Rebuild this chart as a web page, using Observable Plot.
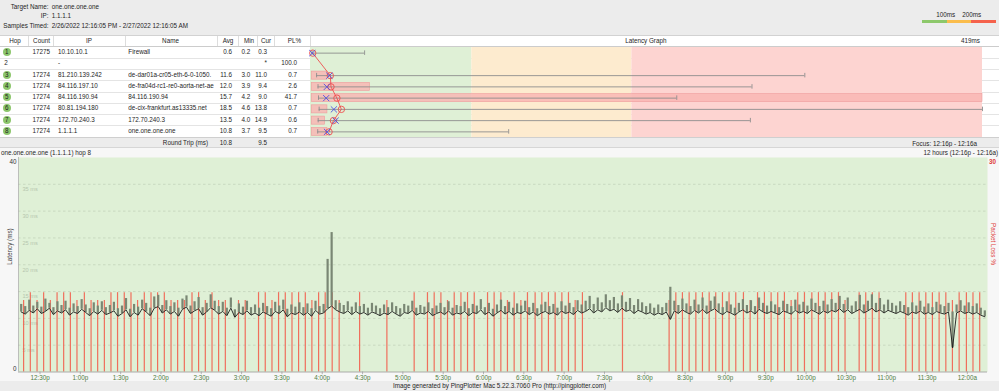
<!DOCTYPE html>
<html><head><meta charset="utf-8">
<script src="https://cdn.jsdelivr.net/npm/d3@7"></script>
<script src="https://cdn.jsdelivr.net/npm/@observablehq/plot@0.6"></script>
<style>
html,body{margin:0;padding:0}
body{width:999px;height:391px;position:relative;overflow:hidden;background:#ececec;font-family:"Liberation Sans",Arial,Helvetica,sans-serif;font-size:6.3px;color:#1e1e1e}
.t{position:absolute;white-space:nowrap;line-height:8px;height:8px}
.box{position:absolute}
</style></head><body>
<script>
// ---------------- data ----------------
const targetName = "one.one.one.one";
const targetIP = "1.1.1.1";
const samplesTimed = "2/26/2022 12:16:05 PM - 2/27/2022 12:16:05 AM";

const hops   = [1, 2, 3, 4, 5, 6, 7, 8];
const counts = ["17275", "", "17274", "17274", "17274", "17274", "17274", "17274"];
const ips    = ["10.10.10.1", "-", "81.210.139.242", "84.116.197.10", "84.116.190.94", "80.81.194.180", "172.70.240.3", "1.1.1.1"];
const names  = ["Firewall", "", "de-dar01a-cr05-eth-6-0-1050.", "de-fra04d-rc1-re0-aorta-net-ae", "84.116.190.94", "de-cix-frankfurt.as13335.net", "172.70.240.3", "one.one.one.one"];
const avgs   = [0.6, null, 11.6, 12.0, 15.7, 18.5, 13.5, 10.8];
const mins   = [0.2, null, 3.0, 3.9, 4.2, 4.6, 4.0, 3.7];
const curs   = [0.3, null, 11.0, 9.4, 9.0, 13.8, 14.9, 9.5];
const curTxt = ["0.3", "*", "11.0", "9.4", "9.0", "13.8", "14.9", "9.5"];
const pls    = [null, 100.0, 0.7, 2.6, 41.7, 0.7, 0.6, 0.7];
const maxs   = [33, null, 308, 275, 228, 419, 274, 123];
const roundTripAvg = "10.8", roundTripCur = "9.5";
const graphMaxMs = 419;
const zoneEdges = [0, 100, 200, 419];
const plScaleMax = 30;

// time series of hop 8: minutes after noon, sampled every 3 min from 12:16p
const startMin = 16, stepMin = 3;
const latMs = [
 11.2,10.8,11.5,11.0,11.8,10.9,11.3,11.9,10.7,11.4,
 11.0,11.6,10.6,11.2,10.9,11.7,11.1,10.5,11.3,10.8,
 11.5,10.7,11.0,11.4,10.4,10.9,11.6,10.3,11.1,10.6,
 11.8,11.2,10.5,11.9,12.2,11.0,11.6,10.8,11.3,10.4,
 11.7,12.1,10.9,11.4,11.8,10.6,11.2,12.0,11.5,10.8,
 11.3,10.5,11.9,10.2,11.1,10.7,11.4,10.6,11.0,10.5,
 11.2,10.8,10.4,11.3,10.9,11.6,10.3,11.0,10.7,11.2,
 10.6,11.1,10.4,11.5,10.8,11.0,11.8,12.3,11.6,11.2,
 10.9,11.4,10.7,11.3,10.8,11.1,10.6,11.2,10.9,10.5,
 11.0,10.7,11.3,10.8,10.4,11.1,10.9,11.5,10.6,11.0,
 10.8,11.3,10.5,10.9,11.2,10.7,11.4,10.6,11.0,10.8,
 11.3,10.5,11.1,10.9,11.6,10.7,11.2,10.4,11.0,11.5,
 10.8,11.3,10.6,11.1,10.9,11.4,10.7,11.2,10.5,11.0,
 11.3,10.8,11.1,10.6,11.4,10.9,11.2,10.7,11.5,11.0,
 11.3,11.8,11.0,11.6,11.2,12.0,11.4,11.7,11.1,11.9,
 11.3,11.6,10.9,11.5,11.2,10.8,11.1,10.6,11.0,10.7,
 11.2,9.8,11.4,10.9,11.6,11.1,10.8,11.5,11.0,11.7,
 10.9,11.4,11.8,11.1,10.7,11.3,11.0,10.6,11.2,11.6,
 11.0,11.4,10.8,11.7,11.2,10.9,11.3,11.0,10.7,11.4,
 11.1,10.8,11.5,11.0,11.3,10.9,11.6,11.2,10.8,11.4,
 11.0,11.5,11.2,11.8,11.1,11.6,10.9,11.3,11.7,11.0,
 11.4,11.9,11.2,11.6,11.0,11.5,11.2,10.9,11.3,11.0,
 10.6,11.2,10.9,11.4,10.8,11.1,10.7,11.3,11.0,10.8,
 11.2,4.5,11.0,11.4,10.9,11.2,10.8,11.1,10.6,10.3
];
const latHiMs = [
 12.6,12.2,13.4,12.3,13.0,12.1,13.6,12.8,12.0,13.1,
 12.4,13.2,11.9,12.7,12.2,13.5,12.5,11.8,12.9,12.3,
 13.1,12.0,12.4,13.0,11.8,12.3,13.7,11.7,12.6,12.1,
 13.4,12.8,11.9,14.0,14.3,12.4,13.3,12.2,12.9,11.9,
 13.6,14.2,12.3,13.1,13.9,12.0,12.8,14.4,13.2,12.2,
 13.0,11.9,13.8,11.6,12.7,12.1,13.2,12.0,12.5,11.9,
 12.8,12.2,11.8,13.0,12.3,13.4,11.7,12.5,12.1,12.9,
 12.0,12.7,11.8,13.2,12.2,12.6,21.0,26.0,13.3,12.8,
 12.4,13.1,12.1,12.9,12.2,12.6,11.9,12.8,12.3,11.8,
 12.5,12.0,12.9,12.2,11.8,12.6,12.3,13.2,11.9,12.4,
 12.1,12.9,11.8,12.3,12.8,12.0,13.1,11.9,12.4,12.2,
 13.0,11.8,12.6,12.3,13.5,12.0,12.8,11.7,12.5,13.4,
 12.2,13.0,11.9,12.7,12.3,13.2,12.0,12.8,11.8,12.5,
 13.0,12.2,12.6,11.9,13.1,12.3,12.8,12.0,13.3,12.5,
 13.2,14.1,12.6,13.8,12.9,14.4,13.3,13.9,12.7,14.2,
 13.0,13.7,12.4,13.5,12.9,12.2,12.7,11.9,12.5,12.0,
 12.8,15.8,13.2,12.4,13.6,12.7,12.2,13.4,12.5,13.8,
 12.3,13.2,14.0,12.7,12.0,13.1,12.5,11.9,12.8,13.5,
 12.4,13.3,12.2,13.8,12.8,12.3,13.1,12.5,12.0,13.2,
 12.6,12.2,13.4,12.5,13.0,12.3,13.6,12.8,12.2,13.2,
 12.5,13.5,12.8,14.1,12.6,13.8,12.3,13.1,14.3,12.5,
 13.2,14.4,12.8,13.7,12.5,13.4,12.8,12.3,13.1,12.4,
 12.0,12.9,12.3,13.2,12.1,12.7,12.0,13.0,12.5,12.2,
 12.8,11.2,12.5,13.3,12.3,12.9,12.2,12.7,11.9,11.4
];
// packet loss events (minutes after noon) and loss %
const lossMin = [17.8,22.8,27.8,32.7,37.7,42.7,47.6,52.6,57.5,63.0,68.0,72.9,77.9,82.8,87.7,92.7,97.7,102.6,107.6,112.6,117.5,122.5,127.5,132.4,137.4,143.1,148.0,153.0,158.0,162.9,167.9,177.7,182.7,192.6,197.6,202.6,207.5,212.5,217.5,222.4,227.4,232.3,237.3,242.2,247.4,252.6,267.8,288.1,308.4,318.3,323.3,328.3,333.2,338.2,343.2,348.1,353.1,363.0,367.9,372.9,377.8,382.8,387.8,392.7,398.4,403.4,408.3,413.3,418.3,423.2,428.2,433.6,463.4,498.1,503.1,508.0,513.0,518.0,522.9,527.9,532.8,537.8,542.7,547.7,553.4,558.4,563.9,569.0,574.0,578.9,583.9,588.9,593.8,598.8,604.3,609.2,614.2,619.1,624.1,629.0,639.5,644.4,649.3,654.3,674.2,679.1,684.1,689.1,694.0,699.0,704.0,708.9,713.9,719.3,724.2,729.2];
const lossPct = [10,11.1,10,11.1,10,11.1,11.1,11.1,10,11.1,10,10,10,11.1,11.1,11.1,11.1,10,11.1,11.1,11.1,11.1,10,10,10,11.1,11.1,10,11.1,10,10,10,10,11.1,11.1,10,11.1,11.1,11.1,11.1,11.1,10,11.1,11.1,11.1,10,11.1,10,11.1,11.1,11.1,11.1,10,11.1,11.1,11.1,11.1,11.1,11.1,11.1,10,11.1,10,11.1,11.1,11.1,11.1,11.1,11.1,11.1,10,11.1,11.1,10,11.1,11.1,11.1,11.1,11.1,11.1,11.1,11.1,11.1,11.1,11.1,10,11.1,11.1,11.1,11.1,11.1,10,11.1,11.1,11.1,11.1,11.1,11.1,11.1,10,11.1,11.1,11.1,11.1,11.1,11.1,11.1,11.1,11.1,11.1,11.1,10,11.1,11.1,11.1,11.1];
const tickMins = [30,60,90,120,150,180,210,240,270,300,330,360,390,420,450,480,510,540,570,600,630,660,690,720];
const tickLabels = ["12:30p","1:00p","1:30p","2:00p","2:30p","3:00p","3:30p","4:00p","4:30p","5:00p","5:30p","6:00p","6:30p","7:00p","7:30p","8:00p","8:30p","9:00p","9:30p","10:00p","10:30p","11:00p","11:30p","12:00a"];
const gridMs = [5,10,15,20,25,30,35];
const latDomain = [0, 40];
const plDomainMax = 30;
const timeDomain = [14, 735];

// ---------------- helpers ----------------
const root = document.body;
function box(x, y, w, h, bg, extra) {
  const d = document.createElement("div"); d.className = "box";
  Object.assign(d.style, {left: x + "px", top: y + "px", width: w + "px", height: h + "px", background: bg}, extra || {});
  root.appendChild(d); return d;
}
function txt(s, x, yc, anchor, style) {
  const d = document.createElement("div"); d.className = "t"; d.textContent = s;
  d.style.top = (yc - 4) + "px";
  if (anchor === "end") { d.style.left = (x - 300) + "px"; d.style.width = "300px"; d.style.textAlign = "right"; }
  else if (anchor === "middle") { d.style.left = (x - 150) + "px"; d.style.width = "300px"; d.style.textAlign = "center"; }
  else d.style.left = x + "px";
  Object.assign(d.style, style || {});
  root.appendChild(d); return d;
}

// ---------------- header ----------------
txt("Target Name:", 48.5, 6.7, "end"); txt(targetName, 51.7, 6.7);
txt("IP:", 48.5, 16.3, "end"); txt(targetIP, 51.7, 16.3);
txt("Samples Timed:", 48.5, 25.7, "end"); txt(samplesTimed, 51.7, 25.7);
txt("100ms", 945.8, 15, "middle"); txt("200ms", 971.8, 15, "middle");
box(922.3, 20, 24.4, 3.3, "#8dc86b"); box(946.7, 20, 24.3, 3.3, "#fbbd4c"); box(971, 20, 24.7, 3.3, "#f5624c");

// ---------------- table ----------------
const rowTop = 46.5, rowH = 11.25;
box(0, 35.5, 999, 101.5, "#ffffff");
box(0, 35, 999, 0.8, "#d2d2d2");
box(0, 46, 999, 0.7, "#cccccc");
for (let k = 1; k < 8; k++) box(0, rowTop + rowH * k, 999, 0.6, "#e4e4e4");
box(0, 136.7, 999, 0.8, "#cfcfcf");
[28, 53, 125, 217, 238, 257, 274, 310].forEach(x => box(x, 35.8, 0.6, 10.2, "#dddddd"));
const hy = 40.8;
txt("Hop", 15, hy, "middle"); txt("Count", 41.5, hy, "middle"); txt("IP", 89, hy, "middle");
txt("Name", 170.5, hy, "middle"); txt("Avg", 228, hy, "middle"); txt("Min", 249, hy, "middle");
txt("Cur", 266, hy, "middle"); txt("PL%", 294.5, hy, "middle");
txt("Latency Graph", 645.8, hy, "middle"); txt(graphMaxMs + "ms", 980, hy, "end");

hops.forEach((h, i) => {
  const yc = rowTop + rowH * (i + 0.5);
  if (avgs[i] != null) {
    box(2.6, yc - 4.1, 8.2, 8.2, "#8cc66b", {borderRadius: "50%"});
    txt(String(h), 6.7, yc, "middle");
  } else txt(String(h), 4.3, yc);
  txt(counts[i], 50, yc, "end");
  txt(ips[i], 58, yc);
  const n = txt(names[i], 128.3, yc); n.style.width = "88px"; n.style.overflow = "hidden";
  if (avgs[i] != null) { txt(avgs[i].toFixed(1), 232, yc, "end"); txt(mins[i].toFixed(1), 250.3, yc, "end"); }
  txt(curTxt[i], 267, yc, "end");
  if (pls[i] != null) txt(pls[i].toFixed(1), 297, yc, "end");
});

txt("Round Trip (ms)", 208, 143, "end"); txt(roundTripAvg, 232, 143, "end"); txt(roundTripCur, 267, 143, "end");
txt("Focus: 12:16p - 12:16a", 977, 143.5, "end");

// ---------------- latency graph (Plot) ----------------
const rows = hops.map((h, i) => ({hop: h, avg: avgs[i], min: mins[i], cur: curs[i], max: maxs[i], pl: pls[i]}));
const resp = rows.filter(d => d.avg != null);
const lg = Plot.plot({
  width: 672, height: 90, margin: 0,
  style: {background: "transparent", overflow: "visible"},
  x: {domain: [-0.8, graphMaxMs], axis: null},
  y: {domain: [8.5, 0.5], axis: null},
  marks: [
    Plot.rect([0], {x1: zoneEdges[0] - 0.8, x2: zoneEdges[1], y1: 8.5, y2: 0.5, fill: "#dff0d6"}),
    Plot.rect([0], {x1: zoneEdges[1], x2: zoneEdges[2], y1: 8.5, y2: 0.5, fill: "#fdebcf"}),
    Plot.rect([0], {x1: zoneEdges[2], x2: zoneEdges[3], y1: 8.5, y2: 0.5, fill: "#fdd4d1"}),
    Plot.rect(resp.filter(d => d.pl > 0), {x1: 0, x2: d => Math.min(d.pl, plScaleMax) * graphMaxMs / plScaleMax, y1: d => d.hop - 0.36, y2: d => d.hop + 0.36, fill: "#f9b4b1", fillOpacity: 0.8, stroke: "#ee9d9d", strokeWidth: 0.6}),
    Plot.ruleY(resp, {y: "hop", x1: "min", x2: "max", stroke: "#8d8d8d", strokeWidth: 0.9}),
    Plot.ruleX(resp, {x: "min", y1: d => d.hop - 0.2, y2: d => d.hop + 0.2, stroke: "#8d8d8d", strokeWidth: 0.9}),
    Plot.ruleX(resp, {x: "max", y1: d => d.hop - 0.2, y2: d => d.hop + 0.2, stroke: "#8d8d8d", strokeWidth: 0.9}),
    Plot.line(resp, {x: "avg", y: "hop", stroke: "#ee4e4e", strokeWidth: 0.9}),
    Plot.dot(resp, {x: "avg", y: "hop", r: 3.2, stroke: "#ee4e4e", strokeWidth: 0.9, fill: "none"}),
    Plot.dot(resp, {x: "cur", y: "hop", symbol: "times", r: 2.9, stroke: "#4f4fe0", strokeWidth: 0.9})
  ]
});
Object.assign(lg.style, {position: "absolute", left: "310px", top: rowTop + "px"});
root.appendChild(lg);

// ---------------- time chart (Plot) ----------------
box(0, 147.4, 999, 0.8, "#d6d6d6");
box(0, 148.2, 999, 232.8, "#f7f7f7");
txt("one.one.one.one (1.1.1.1) hop 8", 1, 152.8);
txt("12 hours (12:16p - 12:16a)", 998, 152.8, "end");
txt("Image generated by PingPlotter Mac 5.22.3.7060 Pro (http://pingplotter.com)", 499.5, 386, "middle");

const series = latMs.map((v, i) => ({m: startMin + i * stepMin, lat: v, hi: latHiMs[i]}));
const loss = lossMin.map((m, i) => ({m, pl: lossPct[i]}));
const plToMs = latDomain[1] / plDomainMax;
const red = "#e0403a";
const tc = Plot.plot({
  width: 999, height: 233, marginTop: 9, marginBottom: 9.5, marginLeft: 18, marginRight: 12,
  style: {background: "transparent", overflow: "visible", fontFamily: "Liberation Sans, Arial, sans-serif", fontSize: "6.3px"},
  x: {domain: timeDomain, axis: null},
  y: {domain: latDomain, axis: null},
  marks: [
    Plot.frame({fill: "#dff0d6", stroke: "none"}),
    Plot.ruleY(gridMs, {stroke: "#c3d3bb", strokeDasharray: "2.5,2.5", strokeWidth: 0.8}),
    Plot.text(gridMs, {x: timeDomain[0], y: d => d, text: d => `${d} ms`, textAnchor: "start", dx: 4, dy: 5, fill: "#b6c6ae", fontSize: 5.6}),
    Plot.ruleX(loss, {x: "m", y1: 0, y2: d => d.pl * plToMs, stroke: "#f2614f", strokeWidth: 1.2, strokeOpacity: 0.9}),
    Plot.ruleX(series, {x: "m", y1: "lat", y2: "hi", stroke: "#7a8774", strokeWidth: 2.2}),
    Plot.line(series, {x: "m", y: "lat", stroke: "#1b1b1b", strokeWidth: 0.9}),
    Plot.ruleY([0], {stroke: "#9a9a9a", strokeWidth: 0.8}),
    Plot.ruleX([timeDomain[0]], {stroke: "#b0b0b0", strokeWidth: 0.8}),
    Plot.ruleX(tickMins, {x: d => d, y1: 0, y2: -0.5, stroke: "#999", strokeWidth: 0.7}),
    Plot.text(tickMins, {x: d => d, y: 0, text: (d, i) => tickLabels[i], dy: 5.5, fill: "#4f7d43", fontSize: 6.3}),
    Plot.text([latDomain[1]], {x: timeDomain[0], y: d => d, text: d => `${d}`, textAnchor: "end", dx: -2, dy: 4.7, fontSize: 6.3, fill: "#333"}),
    Plot.text([latDomain[0]], {x: timeDomain[0], y: d => d, text: d => `${d}`, textAnchor: "end", dx: -2, dy: -3.2, fontSize: 6.3, fill: "#333"}),
    Plot.text([plDomainMax], {x: timeDomain[1], y: d => d * plToMs, text: d => `${d}`, textAnchor: "start", dx: 1.5, dy: 4.7, fill: red, fontSize: 6.3, fontWeight: "bold"}),
    Plot.text(["Latency (ms)"], {frameAnchor: "left", text: d => d, rotate: -90, dx: -9, fill: "#444", fontSize: 6.3}),
    Plot.text(["Packet Loss %"], {frameAnchor: "right", text: d => d, rotate: 90, dx: 5.5, fill: red, fontSize: 6.3})
  ]
});
Object.assign(tc.style, {position: "absolute", left: "0px", top: "148px"});
root.appendChild(tc);
</script>
</body></html>
